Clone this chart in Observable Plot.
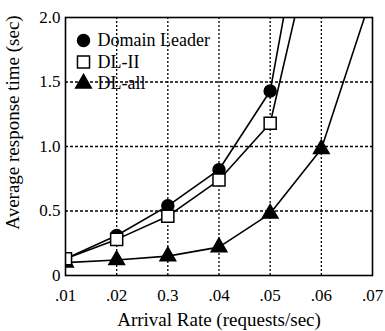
<!DOCTYPE html>
<html>
<head>
<meta charset="utf-8">
<script src="https://cdn.jsdelivr.net/npm/d3@7"></script>
<script src="https://cdn.jsdelivr.net/npm/@observablehq/plot@0.6"></script>
<style>
  html, body { margin: 0; padding: 0; background: #fff; }
  svg { display: block; }
  svg text { font-family: "Liberation Serif", "Times New Roman", serif !important; }
</style>
</head>
<body>
<div id="chart"></div>
<script>
// Data
const rates = [0.01, 0.02, 0.03, 0.04, 0.05, 0.06, 0.07];
const domainLeader = [0.13, 0.31, 0.54, 0.82, 1.43, 3.6, null];
const dlII = [0.13, 0.28, 0.46, 0.74, 1.18, 2.89, null];
const dlAll = [0.10, 0.12, 0.15, 0.22, 0.48, 0.98, 2.19];
const xTickLabels = [".01", ".02", "0.3", ".04", ".05", ".06", ".07"];
const yTicks = [0, 0.5, 1.0, 1.5, 2.0];
const yTickLabels = ["0", "0.5", "1.0", "1.5", "2.0"];
const xTitle = "Arrival Rate (requests/sec)";
const yTitle = "Average response time (sec)";
const seriesNames = ["Domain Leader", "DL-II", "DL-all"];
const seriesSymbols = ["circle", "square", "triangle"];

const seriesValues = [domainLeader, dlII, dlAll];
const rows = seriesNames.flatMap((name, s) =>
  rates.map((x, i) => ({series: name, x, y: seriesValues[s][i]})).filter(d => d.y != null)
);

const font = "'Liberation Serif', 'Times New Roman', serif";
const fill = {"Domain Leader": "black", "DL-II": "white", "DL-all": "black"};
const radius = {"Domain Leader": 6, "DL-II": 6.8, "DL-all": 5.8};

const marks = [
  Plot.gridX(rates.slice(1, -1), {stroke: "black", strokeOpacity: 1, strokeDasharray: "2,2", strokeWidth: 1.3}),
  Plot.gridY(yTicks.slice(1, -1), {stroke: "black", strokeOpacity: 1, strokeDasharray: "3,2", strokeWidth: 1.3}),
  Plot.axisX(rates, {tickSize: 0, tickPadding: 13, fontSize: 17, fontFamily: font, tickFormat: (d, i) => xTickLabels[i], label: null}),
  Plot.axisY(yTicks, {tickSize: 0, tickPadding: 5, fontSize: 17, fontFamily: font, tickFormat: (d, i) => yTickLabels[i], label: null}),
  Plot.text([xTitle], {frameAnchor: "bottom", dy: 44, textAnchor: "middle", lineAnchor: "middle",
    text: d => d, fontSize: 19, fontFamily: font, fill: "black"}),
  Plot.text([yTitle], {frameAnchor: "left", dx: -53, dy: -24, rotate: -90, textAnchor: "middle", lineAnchor: "middle",
    text: d => d, fontSize: 19, fontFamily: font, fill: "black"}),
];
seriesNames.forEach((name) => {
  marks.push(Plot.line(rows.filter(d => d.series === name), {x: "x", y: "y", stroke: "black", strokeWidth: 1.6, clip: true}));
});
["Domain Leader", "DL-all", "DL-II"].forEach((name) => {
  const s = seriesNames.indexOf(name);
  marks.push(Plot.dot(rows.filter(d => d.series === name), {x: "x", y: "y", symbol: seriesSymbols[s],
    r: radius[name], fill: fill[name], stroke: "black", strokeWidth: 1.5, clip: true}));
});
// Legend inside the frame
seriesNames.forEach((name, s) => {
  marks.push(Plot.dot([name], {frameAnchor: "top-left", dx: 18, dy: 23 + s * 21.5, symbol: seriesSymbols[s],
    r: radius[name], fill: fill[name], stroke: "black", strokeWidth: 1.5}));
  marks.push(Plot.text([name], {frameAnchor: "top-left", dx: 32, dy: 23 + s * 21.5, text: d => d,
    textAnchor: "start", lineAnchor: "middle", fontSize: 18, fontFamily: font, fill: "black"}));
});
marks.push(Plot.frame({stroke: "black", strokeWidth: 1.6}));

const chart = Plot.plot({
  width: 385,
  height: 331,
  marginLeft: 65,
  marginRight: 13,
  marginTop: 17,
  marginBottom: 56,
  style: {fontFamily: font, fontSize: "17px", color: "black", background: "white", overflow: "visible"},
  x: {domain: [0.01, 0.07], axis: null},
  y: {domain: [0, 2], axis: null},
  marks
});
document.getElementById("chart").appendChild(chart);
</script>
</body>
</html>
